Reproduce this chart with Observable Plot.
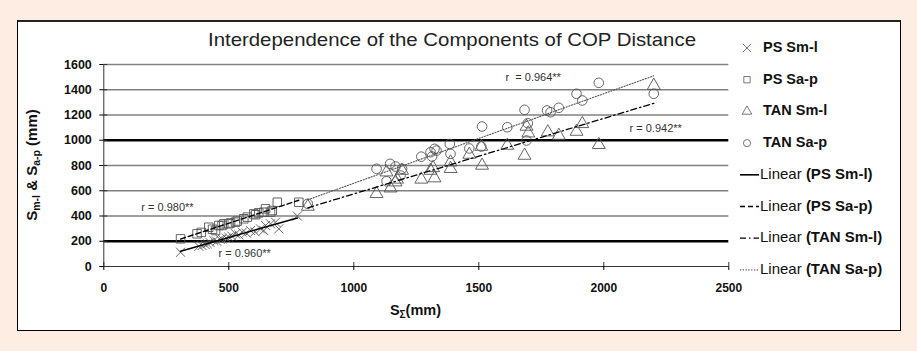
<!DOCTYPE html>
<html><head><meta charset="utf-8">
<script src="https://cdn.jsdelivr.net/npm/d3@7"></script>
<script src="https://cdn.jsdelivr.net/npm/@observablehq/plot@0.6"></script>
<style>
html,body{margin:0;padding:0;background:#fdede3;width:917px;height:351px;overflow:hidden;font-family:"Liberation Sans",Arial,sans-serif}
#panel{position:absolute;left:17px;top:20px;width:882px;height:308px;background:#fff;border:1px solid #000;border-top:2px solid #222;}
#panel svg{position:absolute;left:0;top:0}
</style></head><body><div id="panel"></div>
<script>
// ---- data ----
const psSmlX = [307, 380, 393, 405, 414, 425, 440, 452, 465, 473, 490, 500, 512, 527, 540, 554, 570, 587, 605, 627, 640, 647, 667, 687, 700, 774];
const psSmlY = [113, 160, 166, 175, 180, 190, 206, 200, 215, 219, 225, 232, 240, 259, 250, 272, 265, 285, 275, 298, 285, 325, 338, 351, 298, 400];
const psSapX = [307, 373, 390, 420, 435, 447, 460, 473, 480, 500, 507, 527, 534, 560, 574, 600, 607, 620, 640, 647, 667, 674, 694, 780];
const psSapY = [219, 259, 270, 311, 295, 285, 325, 325, 338, 338, 345, 351, 360, 378, 391, 417, 410, 425, 430, 457, 430, 443, 509, 509];
const tanSmlX = [816, 1091, 1131, 1147, 1167, 1173, 1193, 1270, 1307, 1317, 1323, 1387, 1387, 1462, 1510, 1513, 1614, 1683, 1691, 1698, 1776, 1820, 1891, 1914, 1980, 2200];
const tanSmlY = [475, 576, 747, 620, 668, 690, 760, 690, 760, 781, 700, 774, 826, 887, 950, 800, 958, 879, 1109, 1056, 1064, 1037, 1069, 1130, 964, 1433];
const tanSapX = [816, 1091, 1131, 1145, 1167, 1187, 1193, 1270, 1307, 1313, 1323, 1331, 1384, 1387, 1462, 1510, 1513, 1614, 1683, 1691, 1696, 1773, 1787, 1820, 1891, 1914, 1980, 2200];
const tanSapY = [497, 774, 675, 813, 792, 721, 774, 870, 905, 871, 932, 918, 970, 892, 935, 950, 1109, 1103, 1241, 998, 1135, 1236, 1222, 1257, 1368, 1315, 1455, 1368];

const seriesNames = ["PS Sm-l", "PS Sa-p", "TAN Sm-l", "TAN Sa-p"];
const seriesSymbols = ["times", "square", "triangle", "circle"];
const annX = [150, 459, 1607, 2103];
const annY = [465, 103, 1497, 1093];
const annText = ["r = 0.980**", "r = 0.960**", "r  = 0.964**", "r = 0.942**"];
const xTicks = [0, 500, 1000, 1500, 2000, 2500];
const yTicks = [0, 200, 400, 600, 800, 1000, 1200, 1400, 1600];
const gridThick = [200, 1000];
const gridThin = [400, 600, 800, 1200, 1400, 1600];
const titleText = "Interdependence of the Components of COP Distance";

// ---- build ----
const xs = [psSmlX, psSapX, tanSmlX, tanSapX];
const ys = [psSmlY, psSapY, tanSmlY, tanSapY];
const sets = seriesNames.map((name, k) => xs[k].map((x, i) => ({series: name, x, y: ys[k][i]})));
const annots = annText.map((t, i) => ({x: annX[i], y: annY[i], text: t}));

const lineStyles = [
  {stroke: "#000", strokeWidth: 1.6, strokeDasharray: null},
  {stroke: "#000", strokeWidth: 1.4, strokeDasharray: "5,3"},
  {stroke: "#000", strokeWidth: 1.3, strokeDasharray: "6,3,1.5,3"},
  {stroke: "#555", strokeWidth: 1.1, strokeDasharray: "1.2,1.6"}
];

const W = 882, H = 308;
const marks = [
  Plot.ruleY(gridThin, {stroke: "#808080", strokeWidth: 1.3}),
  Plot.ruleY(gridThick, {stroke: "#000", strokeWidth: 2.3}),
  Plot.ruleY([0], {stroke: "#333", strokeWidth: 1}),
  Plot.ruleX([0], {y1: 0, y2: 1600, stroke: "#333", strokeWidth: 1}),
  Plot.axisY({ticks: yTicks, tickSize: 4, tickPadding: 8, tickFormat: d => String(d), fontSize: 12.5, fontWeight: "bold", fill: "#111", label: null}),
  Plot.ruleY(yTicks, {y: d => d, x1: 0, x2: 16, stroke: "#333"}),
  Plot.axisX({ticks: xTicks, tickSize: 4, tickPadding: 13, tickFormat: d => String(d), fontSize: 12, fontWeight: "bold", fill: "#111", label: null}),
  Plot.ruleX(xTicks, {x: d => d, y1: 0, y2: 32, stroke: "#333"})
];
sets.forEach((d, k) => {
  marks.push(Plot.dot(d, {x: "x", y: "y", symbol: seriesSymbols[k], r: k === 0 ? 4.2 : 4.8, stroke: "#555", strokeWidth: 0.9, fill: "none"}));
});
sets.forEach((d, k) => {
  const s = lineStyles[k];
  const opts = {x: "x", y: "y", stroke: s.stroke, strokeWidth: s.strokeWidth, ci: 0};
  if (s.strokeDasharray) opts.strokeDasharray = s.strokeDasharray;
  marks.push(Plot.linearRegressionY(d, opts));
});
marks.push(Plot.text(annots, {x: "x", y: "y", text: "text", textAnchor: "start", fontSize: 11, fill: "#333"}));

const svgEl = Plot.plot({
  width: W, height: H,
  marginLeft: 85.3, marginRight: 171.7, marginTop: 42, marginBottom: 64,
  x: {domain: [0, 2500]},
  y: {domain: [0, 1600]},
  style: {fontFamily: "'Liberation Sans', Arial, sans-serif", background: "transparent", overflow: "visible"},
  marks
});
document.getElementById("panel").appendChild(svgEl);

const svg = d3.select(svgEl);
const FONT = "'Liberation Sans', Arial, sans-serif";
// title
svg.append("text").attr("x", 434).attr("y", 19).attr("text-anchor", "middle").attr("dominant-baseline", "middle")
  .attr("font-family", FONT).attr("font-size", 19).attr("fill", "#222")
  .attr("textLength", 488).attr("lengthAdjust", "spacingAndGlyphs").text(titleText);
// y label
const yl = svg.append("text").attr("transform", "translate(15,143) rotate(-90)").attr("text-anchor", "middle")
  .attr("dominant-baseline", "middle").attr("font-family", FONT).attr("font-size", 15).attr("font-weight", "bold").attr("fill", "#111");
yl.append("tspan").text("S");
yl.append("tspan").attr("font-size", 10.5).attr("dy", 4).text("m-l");
yl.append("tspan").attr("dy", -4).text(" & S");
yl.append("tspan").attr("font-size", 10.5).attr("dy", 4).text("a-p");
yl.append("tspan").attr("dy", -4).text(" (mm)");
// x label
const xl = svg.append("text").attr("x", 397.5).attr("y", 289).attr("text-anchor", "middle")
  .attr("dominant-baseline", "middle").attr("font-family", FONT).attr("font-size", 14.5).attr("font-weight", "bold").attr("fill", "#111");
xl.append("tspan").text("S");
xl.append("tspan").attr("font-size", 10).attr("dy", 4).text("Σ");
xl.append("tspan").attr("dy", -4).text("(mm)");

// legend
const legY0 = 26, legStep = 31.7, symX = 729, txtX = 745, lineTxtX = 742;
const symMap = {times: d3.symbolTimes, square: d3.symbolSquare, triangle: d3.symbolTriangle, circle: d3.symbolCircle};
seriesNames.forEach((name, k) => {
  const y = legY0 + k * legStep;
  svg.append("path").attr("transform", `translate(${symX},${y})`)
    .attr("d", d3.symbol(symMap[seriesSymbols[k]], k === 0 ? 45 : 40)())
    .attr("fill", "none").attr("stroke", "#666").attr("stroke-width", 0.9);
  svg.append("text").attr("x", txtX).attr("y", y).attr("text-anchor", "start").attr("dominant-baseline", "middle")
    .attr("font-family", FONT).attr("font-size", 14.5).attr("font-weight", "bold").attr("fill", "#111").text(name);
});
seriesNames.forEach((name, k) => {
  const y = legY0 + (k + 4) * legStep;
  const s = lineStyles[k];
  const ln = svg.append("line").attr("x1", 722).attr("x2", 741).attr("y1", y).attr("y2", y)
    .attr("stroke", s.stroke).attr("stroke-width", s.strokeWidth);
  if (s.strokeDasharray) ln.attr("stroke-dasharray", s.strokeDasharray);
  const t = svg.append("text").attr("x", lineTxtX).attr("y", y).attr("text-anchor", "start").attr("dominant-baseline", "middle")
    .attr("font-family", FONT).attr("font-size", 15).attr("fill", "#111");
  t.append("tspan").text("Linear ");
  t.append("tspan").attr("font-weight", "bold").text("(" + name + ")");
});
</script></body></html>
